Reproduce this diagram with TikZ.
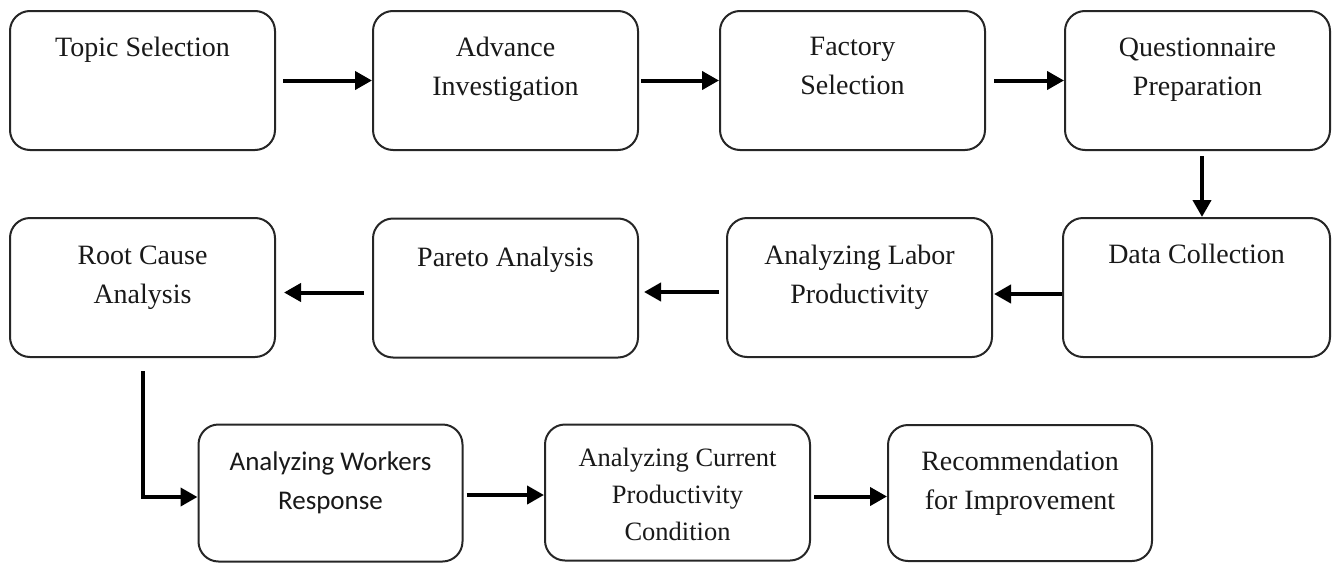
\documentclass[tikz,border=0pt]{standalone}
\usepackage{fontspec}
\setmainfont{Liberation Serif}
\newfontfamily\calib{Carlito}
\usetikzlibrary{arrows.meta}

\begin{document}
\begin{tikzpicture}[x=1pt,y=-1pt,
  stage/.style={draw=black!85, line width=2pt, rounded corners=20pt,
    minimum width=265pt, minimum height=139pt, inner sep=0pt, fill=white},
  caption/.style={anchor=north, align=center, inner sep=0pt, text=black!90,
    font=\fontsize{28}{39}\selectfont, execute at begin node=\strut},
  flow/.style={line width=4pt, -{Triangle[length=17pt,width=18pt]}},
]
\useasboundingbox (0,0) rectangle (1332,562);

% first row
\node[stage] (ts)  at (142.5,80.5) {};
\node[stage] (ai)  at (505.5,80.5) {};
\node[stage] (fs)  at (852.5,80.5) {};
\node[stage] (qp)  at (1197.5,80.5) {};
% second row
\node[stage] (rca) at (142.5,287.5) {};
\node[stage] (pa)  at (505.5,288) {};
\node[stage] (alp) at (859.5,287.5) {};
\node[stage, minimum width=267pt] (dc) at (1196.5,287.5) {};
% third row
\node[stage, minimum width=264pt, minimum height=137pt] (awr)  at (330.5,493) {};
\node[stage, minimum height=136pt] (acpc) at (677.5,492.5) {};
\node[stage, minimum width=264pt, minimum height=136pt] (rfi)  at (1020,493) {};

% captions (yshift is in page units: negative moves down)
\node[caption] (ts-t)  at ([yshift=-19pt]ts.north)  {Topic Selection};
\node[caption] (ai-t)  at ([yshift=-27pt]ai.north)  {Advance\\Investigation};
\node[caption] (fs-t)  at ([yshift=-27pt]fs.north)  {Factory\\Selection};
\node[caption] (qp-t)  at ([yshift=-28pt]qp.north)  {Questionnaire\\Preparation};
\node[caption] (rca-t) at ([yshift=-29pt]rca.north) {Root Cause\\Analysis};
\node[caption] (pa-t)  at ([yshift=-21pt]pa.north)  {Pareto Analysis};
\node[caption] (alp-t) at ([yshift=-28pt]alp.north) {Analyzing Labor\\Productivity};
\node[caption] (dc-t)  at ([yshift=-19pt]dc.north)  {Data Collection};
\node[caption, font=\calib\fontsize{27}{39}\selectfont] (awr-t) at ([yshift=-28pt]awr.north)
  {Analyzing Workers\\Response};
\node[caption, font=\fontsize{26.5}{37}\selectfont] (acpc-t) at ([yshift=-24pt]acpc.north)
  {Analyzing Current\\Productivity\\Condition};
\node[caption] (rfi-t) at ([yshift=-27pt]rfi.north) {Recommendation\\for Improvement};

% connectors, first row
\draw[flow] ([xshift=7pt]ts.east) -- (ts.east -| ai.west);
\draw[flow] ([xshift=2pt]ai.east) -- (ai.east -| fs.west);
\draw[flow] ([xshift=8pt]fs.east) -- (fs.east -| qp.west);
\coordinate (down) at ([xshift=4.5pt, yshift=-5pt]qp.south);
\draw[flow] (down) -- (down |- dc.north);
% second row, right to left
\coordinate (r2a) at ([yshift=-6.5pt]dc.west);
\draw[flow] (r2a) -- ([xshift=1pt]r2a -| alp.east);
\coordinate (r2b) at ([xshift=-7pt, yshift=-4.5pt]alp.west);
\draw[flow] (r2b) -- ([xshift=5pt]r2b -| pa.east);
\coordinate (r2c) at ([xshift=-8pt, yshift=-4.5pt]pa.west);
\draw[flow] (r2c) -- ([xshift=8pt]r2c -| rca.east);
% down to the third row
\coordinate (elbow) at ([xshift=0.5pt, yshift=-13pt]rca.south);
\draw[flow] (elbow) |- ([yshift=-4pt]awr.west);
% third row
\draw[flow] ([xshift=3pt, yshift=-2pt]awr.east) -- ([yshift=-2pt]awr.east -| acpc.west);
\draw[flow] ([xshift=3pt, yshift=-4pt]acpc.east) -- ([yshift=-4pt]acpc.east -| rfi.west);
\end{tikzpicture}
\end{document}
